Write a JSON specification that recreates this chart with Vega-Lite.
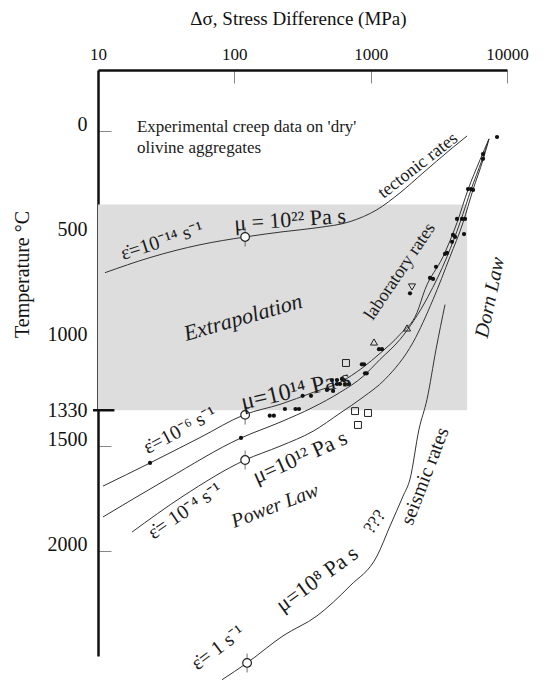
{
  "$schema": "https://vega.github.io/schema/vega-lite/v6.json",
  "width": 409,
  "height": 586,
  "autosize": {"type": "none"},
  "padding": {"left": 98, "top": 70, "right": 44, "bottom": 25},
  "background": "white",
  "config": {
    "view": {"stroke": null},
    "font": "Liberation Serif",
    "text": {"font": "Liberation Serif", "color": "#1a1a1a"}
  },
  "datasets": {
    "region": [{"stress": 10, "stress2": 5100, "temp": 350, "temp2": 1330}],
    "curves": [
      {"curve": "tectonic", "stress": 11.25, "temp": 675},
      {"curve": "tectonic", "stress": 24.07, "temp": 603},
      {"curve": "tectonic", "stress": 56.0, "temp": 542},
      {"curve": "tectonic", "stress": 119.8, "temp": 505},
      {"curve": "tectonic", "stress": 227.5, "temp": 480},
      {"curve": "tectonic", "stress": 404, "temp": 461},
      {"curve": "tectonic", "stress": 705, "temp": 432},
      {"curve": "tectonic", "stress": 1113, "temp": 375},
      {"curve": "tectonic", "stress": 1641, "temp": 295},
      {"curve": "tectonic", "stress": 2421, "temp": 200},
      {"curve": "tectonic", "stress": 3819, "temp": 90},
      {"curve": "tectonic", "stress": 5090, "temp": 24},
      {"curve": "e6", "stress": 10.88, "temp": 1691},
      {"curve": "e6", "stress": 24.07, "temp": 1581},
      {"curve": "e6", "stress": 56.0, "temp": 1460},
      {"curve": "e6", "stress": 119.8, "temp": 1350},
      {"curve": "e6", "stress": 216.3, "temp": 1302},
      {"curve": "e6", "stress": 377.6, "temp": 1245},
      {"curve": "e6", "stress": 595.9, "temp": 1197},
      {"curve": "e6", "stress": 878.7, "temp": 1126},
      {"curve": "e6", "stress": 1171, "temp": 1059},
      {"curve": "e6", "stress": 1641, "temp": 969},
      {"curve": "e6", "stress": 2188, "temp": 865},
      {"curve": "e6", "stress": 2504, "temp": 755},
      {"curve": "e6", "stress": 3393, "temp": 599},
      {"curve": "e6", "stress": 4298, "temp": 437},
      {"curve": "e6", "stress": 5176, "temp": 280},
      {"curve": "e6", "stress": 6339, "temp": 138},
      {"curve": "e6", "stress": 7379, "temp": 38},
      {"curve": "mid", "stress": 10.88, "temp": 1838},
      {"curve": "mid", "stress": 32.07, "temp": 1658},
      {"curve": "mid", "stress": 111.9, "temp": 1462},
      {"curve": "mid", "stress": 216.3, "temp": 1387},
      {"curve": "mid", "stress": 377.6, "temp": 1316},
      {"curve": "mid", "stress": 595.9, "temp": 1245},
      {"curve": "mid", "stress": 878.7, "temp": 1169},
      {"curve": "mid", "stress": 1171, "temp": 1088},
      {"curve": "mid", "stress": 1641, "temp": 993},
      {"curve": "mid", "stress": 2634, "temp": 789},
      {"curve": "mid", "stress": 3631, "temp": 599},
      {"curve": "mid", "stress": 4521, "temp": 437},
      {"curve": "mid", "stress": 5445, "temp": 280},
      {"curve": "mid", "stress": 6557, "temp": 138},
      {"curve": "mid", "stress": 7379, "temp": 38},
      {"curve": "e4", "stress": 17.76, "temp": 1910},
      {"curve": "e4", "stress": 42.03, "temp": 1739},
      {"curve": "e4", "stress": 119.8, "temp": 1567},
      {"curve": "e4", "stress": 216.3, "temp": 1501},
      {"curve": "e4", "stress": 377.6, "temp": 1430},
      {"curve": "e4", "stress": 595.9, "temp": 1344},
      {"curve": "e4", "stress": 878.7, "temp": 1268},
      {"curve": "e4", "stress": 1274, "temp": 1183},
      {"curve": "e4", "stress": 2045, "temp": 1007},
      {"curve": "e4", "stress": 2867, "temp": 803},
      {"curve": "e4", "stress": 3819, "temp": 599},
      {"curve": "e4", "stress": 4757, "temp": 437},
      {"curve": "e4", "stress": 5634, "temp": 280},
      {"curve": "e4", "stress": 6668, "temp": 138},
      {"curve": "e4", "stress": 7379, "temp": 38},
      {"curve": "seismic", "stress": 81.2, "temp": 2613},
      {"curve": "seismic", "stress": 123.9, "temp": 2533},
      {"curve": "seismic", "stress": 227.5, "temp": 2404},
      {"curve": "seismic", "stress": 404, "temp": 2309},
      {"curve": "seismic", "stress": 705.5, "temp": 2166},
      {"curve": "seismic", "stress": 1113, "temp": 2024},
      {"curve": "seismic", "stress": 1387, "temp": 1881},
      {"curve": "seismic", "stress": 1727, "temp": 1739},
      {"curve": "seismic", "stress": 1943, "temp": 1658},
      {"curve": "seismic", "stress": 2263, "temp": 1420},
      {"curve": "seismic", "stress": 2590, "temp": 1278},
      {"curve": "seismic", "stress": 3016, "temp": 1040},
      {"curve": "seismic", "stress": 3510, "temp": 827}
    ],
    "dots": [
      {"stress": 24.07, "temp": 1581},
      {"stress": 111.9, "temp": 1462},
      {"stress": 182, "temp": 1356},
      {"stress": 195, "temp": 1356},
      {"stress": 235, "temp": 1324},
      {"stress": 281, "temp": 1324},
      {"stress": 298, "temp": 1324},
      {"stress": 317, "temp": 1261},
      {"stress": 365, "temp": 1261},
      {"stress": 478, "temp": 1233},
      {"stress": 530, "temp": 1238},
      {"stress": 520, "temp": 1186},
      {"stress": 566, "temp": 1186},
      {"stress": 616, "temp": 1181},
      {"stress": 637, "temp": 1186},
      {"stress": 566, "temp": 1205},
      {"stress": 596, "temp": 1205},
      {"stress": 648, "temp": 1205},
      {"stress": 694, "temp": 1205},
      {"stress": 862, "temp": 1111},
      {"stress": 894, "temp": 1111},
      {"stress": 909, "temp": 1154},
      {"stress": 935, "temp": 1154},
      {"stress": 1151, "temp": 1039},
      {"stress": 1211, "temp": 1039},
      {"stress": 1943, "temp": 773},
      {"stress": 2724, "temp": 700},
      {"stress": 2867, "temp": 705},
      {"stress": 3016, "temp": 647},
      {"stress": 3510, "temp": 585},
      {"stress": 3631, "temp": 581},
      {"stress": 3951, "temp": 528},
      {"stress": 4018, "temp": 495},
      {"stress": 4156, "temp": 505},
      {"stress": 4839, "temp": 491},
      {"stress": 4298, "temp": 419},
      {"stress": 4677, "temp": 419},
      {"stress": 4921, "temp": 419},
      {"stress": 5176, "temp": 277},
      {"stress": 5445, "temp": 277},
      {"stress": 5634, "temp": 281},
      {"stress": 6668, "temp": 110},
      {"stress": 6668, "temp": 133},
      {"stress": 8450, "temp": 29}
    ],
    "viscosity": [
      {"stress": 120, "temp": 505},
      {"stress": 120, "temp": 1352},
      {"stress": 120, "temp": 1567},
      {"stress": 124, "temp": 2533}
    ],
    "triUp": [
      {"stress": 1058, "temp": 1005},
      {"stress": 1848, "temp": 938}
    ],
    "triDown": [
      {"stress": 2010, "temp": 743}
    ],
    "squares": [
      {"stress": 659, "temp": 1105},
      {"stress": 768, "temp": 1334},
      {"stress": 956, "temp": 1343},
      {"stress": 807, "temp": 1400}
    ],
    "tick1330": [{"stress": 9.2, "stress2": 13.2, "temp": 1330}]
  },
  "encoding": {
    "x": {
      "field": "stress",
      "type": "quantitative",
      "scale": {"type": "log", "domain": [10, 10000], "nice": false, "zero": false},
      "axis": {
        "orient": "top",
        "title": "Δσ, Stress Difference (MPa)",
        "values": [10, 100, 1000, 10000],
        "format": "d",
        "grid": false,
        "tickSize": -13,
        "tickWidth": 1,
        "tickColor": "#888888",
        "domainWidth": 2.5,
        "domainColor": "#111111",
        "labelFont": "Liberation Serif",
        "labelFontSize": 17,
        "labelColor": "#111111",
        "labelPadding": 20,
        "labelFlush": false,
        "labelOverlap": false,
        "titleFont": "Liberation Serif",
        "titleFontSize": 19,
        "titleFontWeight": "normal",
        "titleColor": "#111111",
        "titleX": 200,
        "titleY": -46,
        "titleBaseline": "alphabetic",
        "titleAlign": "center"
      }
    },
    "y": {
      "field": "temp",
      "type": "quantitative",
      "scale": {"domain": [-290, 2500], "reverse": true, "nice": false, "zero": false},
      "axis": {
        "orient": "left",
        "title": "Temperature °C",
        "values": [0, 500, 1000, 1330, 1500, 2000],
        "format": "d",
        "grid": false,
        "tickSize": -13,
        "tickWidth": 1,
        "tickColor": "#888888",
        "domainWidth": 2.5,
        "domainColor": "#111111",
        "labelFont": "Liberation Serif",
        "labelFontSize": 20,
        "labelColor": "#111111",
        "labelPadding": 24,
        "labelOverlap": false,
        "labelFlush": false,
        "labelBaseline": {"condition": {"test": "datum.value === 1330", "value": "middle"}, "value": "alphabetic"},
        "titleFont": "Liberation Serif",
        "titleFontSize": 20,
        "titleFontWeight": "normal",
        "titleColor": "#111111",
        "titleAngle": 270,
        "titleX": -70,
        "titleY": 204,
        "titleBaseline": "alphabetic",
        "titleAlign": "center"
      }
    }
  },
  "layer": [
    {
      "data": {"name": "region"},
      "mark": {"type": "rect", "fill": "#dddddd"},
      "encoding": {"x2": {"field": "stress2"}, "y2": {"field": "temp2"}}
    },
    {
      "data": {"name": "tick1330"},
      "mark": {"type": "rule", "stroke": "#111111", "strokeWidth": 2.5},
      "encoding": {"x2": {"field": "stress2"}}
    },
    {
      "data": {"name": "curves"},
      "mark": {"type": "line", "stroke": "#333333", "strokeWidth": 1, "interpolate": "monotone"},
      "encoding": {"detail": {"field": "curve"}}
    },
    {
      "data": {"name": "dots"},
      "mark": {"type": "point", "shape": "circle", "filled": true, "fill": "#111111", "stroke": null, "size": 18, "opacity": 1}
    },
    {
      "data": {"name": "viscosity"},
      "mark": {"type": "tick", "orient": "vertical", "size": 19, "thickness": 1, "color": "#333333"}
    },
    {
      "data": {"name": "viscosity"},
      "mark": {"type": "point", "shape": "circle", "filled": true, "fill": "white", "stroke": "#222222", "strokeWidth": 1.2, "size": 75, "opacity": 1}
    },
    {
      "data": {"name": "triUp"},
      "mark": {"type": "point", "shape": "triangle-up", "filled": false, "stroke": "#222222", "strokeWidth": 1, "size": 50, "opacity": 1}
    },
    {
      "data": {"name": "triDown"},
      "mark": {"type": "point", "shape": "triangle-down", "filled": false, "stroke": "#222222", "strokeWidth": 1, "size": 50, "opacity": 1}
    },
    {
      "data": {"name": "squares"},
      "mark": {"type": "point", "shape": "square", "filled": false, "stroke": "#222222", "strokeWidth": 1, "size": 48, "opacity": 1}
    },
    {
      "data": {"values": [{"label": ["Experimental creep data on 'dry'", "olivine aggregates"], "stress": 19.3, "temp": 5}]},
      "mark": {"type": "text", "align": "left", "baseline": "alphabetic", "fontSize": 17, "lineHeight": 21},
      "encoding": {"text": {"field": "label"}}
    },
    {
      "data": {"values": [{"label": "ε̇=10⁻¹⁴ s⁻¹", "stress": 29.5, "temp": 525}]},
      "mark": {"type": "text", "align": "center", "baseline": "middle", "fontSize": 20, "angle": 342},
      "encoding": {"text": {"field": "label"}}
    },
    {
      "data": {"values": [{"label": "μ = 10²² Pa s", "stress": 256, "temp": 423}]},
      "mark": {"type": "text", "align": "center", "baseline": "middle", "fontSize": 22, "angle": 356},
      "encoding": {"text": {"field": "label"}}
    },
    {
      "data": {"values": [{"label": "tectonic rates", "stress": 2225, "temp": 166}]},
      "mark": {"type": "text", "align": "center", "baseline": "middle", "fontSize": 18, "angle": 322},
      "encoding": {"text": {"field": "label"}}
    },
    {
      "data": {"values": [{"label": "Extrapolation", "stress": 115.8, "temp": 888}]},
      "mark": {"type": "text", "align": "center", "baseline": "middle", "fontSize": 22, "fontStyle": "italic", "angle": 344},
      "encoding": {"text": {"field": "label"}}
    },
    {
      "data": {"values": [{"label": "laboratory rates", "stress": 1641, "temp": 670}]},
      "mark": {"type": "text", "align": "center", "baseline": "middle", "fontSize": 18, "angle": 304},
      "encoding": {"text": {"field": "label"}}
    },
    {
      "data": {"values": [{"label": "Dorn Law", "stress": 7507, "temp": 793}]},
      "mark": {"type": "text", "align": "center", "baseline": "middle", "fontSize": 20, "fontStyle": "italic", "angle": 282},
      "encoding": {"text": {"field": "label"}}
    },
    {
      "data": {"values": [{"label": "μ=10¹⁴ Pa s", "stress": 282, "temp": 1236}]},
      "mark": {"type": "text", "align": "center", "baseline": "middle", "fontSize": 24, "angle": 347},
      "encoding": {"text": {"field": "label"}}
    },
    {
      "data": {"values": [{"label": "ε̇=10⁻⁶ s⁻¹", "stress": 39.9, "temp": 1426}]},
      "mark": {"type": "text", "align": "center", "baseline": "middle", "fontSize": 20, "angle": 332},
      "encoding": {"text": {"field": "label"}}
    },
    {
      "data": {"values": [{"label": "μ=10¹² Pa s", "stress": 303, "temp": 1553}]},
      "mark": {"type": "text", "align": "center", "baseline": "middle", "fontSize": 22, "angle": 336},
      "encoding": {"text": {"field": "label"}}
    },
    {
      "data": {"values": [{"label": "ε̇= 10⁻⁴ s⁻¹", "stress": 43.5, "temp": 1810}]},
      "mark": {"type": "text", "align": "center", "baseline": "middle", "fontSize": 20, "angle": 326},
      "encoding": {"text": {"field": "label"}}
    },
    {
      "data": {"values": [{"label": "Power Law", "stress": 198.7, "temp": 1786}]},
      "mark": {"type": "text", "align": "center", "baseline": "middle", "fontSize": 20, "fontStyle": "italic", "angle": 339},
      "encoding": {"text": {"field": "label"}}
    },
    {
      "data": {"values": [{"label": "ε̇= 1 s⁻¹", "stress": 75.9, "temp": 2461}]},
      "mark": {"type": "text", "align": "center", "baseline": "middle", "fontSize": 20, "angle": 323},
      "encoding": {"text": {"field": "label"}}
    },
    {
      "data": {"values": [{"label": "μ=10⁸ Pa s", "stress": 404, "temp": 2133}]},
      "mark": {"type": "text", "align": "center", "baseline": "middle", "fontSize": 22, "angle": 324},
      "encoding": {"text": {"field": "label"}}
    },
    {
      "data": {"values": [{"label": "???", "stress": 1076, "temp": 1862}]},
      "mark": {"type": "text", "align": "center", "baseline": "middle", "fontSize": 18, "angle": 305},
      "encoding": {"text": {"field": "label"}}
    },
    {
      "data": {"values": [{"label": "seismic rates", "stress": 2504, "temp": 1644}]},
      "mark": {"type": "text", "align": "center", "baseline": "middle", "fontSize": 20, "angle": 291},
      "encoding": {"text": {"field": "label"}}
    }
  ]
}
